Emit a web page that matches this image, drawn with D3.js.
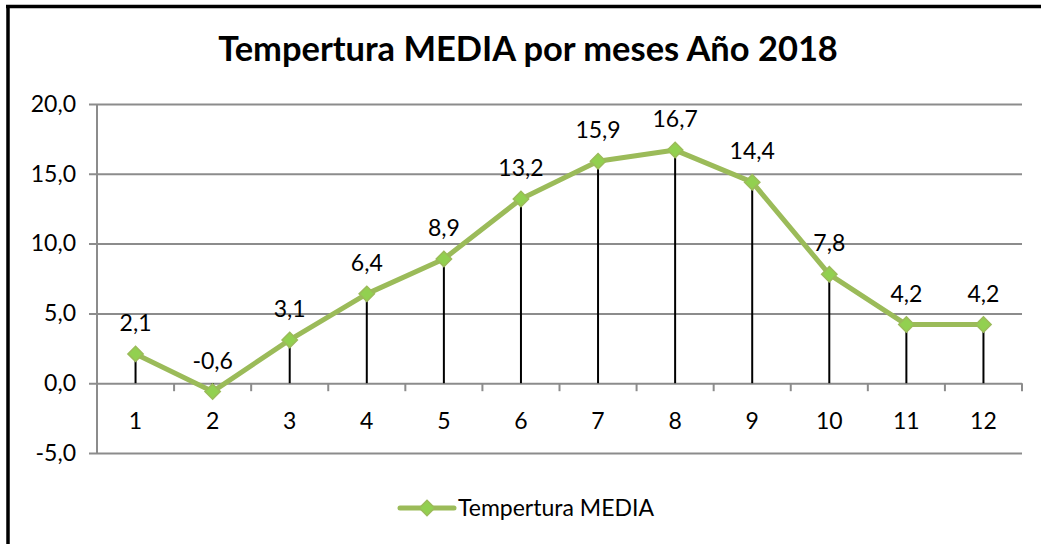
<!DOCTYPE html>
<html>
<head>
<meta charset="utf-8">
<script src="https://cdn.jsdelivr.net/npm/d3@7"></script>
<style>
  body { margin: 0; background: #fff; }
  svg { display: block; font-family: Lato, "Open Sans", sans-serif; }
</style>
</head>
<body>
<svg class="chart" width="1041" height="544"></svg>
<script>
const months = ['1', '2', '3', '4', '5', '6', '7', '8', '9', '10', '11', '12'];
const tempMedia = [2.1, -0.6, 3.1, 6.4, 8.9, 13.2, 15.9, 16.7, 14.4, 7.8, 4.2, 4.2];
const yTicks = [-5, 0, 5, 10, 15, 20];
const titleText = 'Tempertura MEDIA por meses Año 2018';
const seriesName = 'Tempertura MEDIA';

const chart = d3.select('.chart');
const width = +chart.attr('width');
const height = +chart.attr('height');

const margin = { top: 104, right: 19, bottom: 91, left: 97 };
const innerWidth = width - margin.left - margin.right;
const innerHeight = height - margin.top - margin.bottom;

const lineColor = '#9bbb59';
const markerFill = '#92d050';
const gridColor = '#8c8c8c';
const fmt = v => d3.format('.1f')(v).replace('.', ',').replace('\u2212', '-');

// outer frame: only top and left edges show in the picture
chart.append('line')
    .attr('x1', 6).attr('x2', width).attr('y1', 6.5).attr('y2', 6.5)
    .attr('stroke', '#000').attr('stroke-width', 3.5);
chart.append('line')
    .attr('x1', 8).attr('x2', 8).attr('y1', 5).attr('y2', height)
    .attr('stroke', '#000').attr('stroke-width', 3.5);

const title = chart.append('text')
    .attr('x', 528).attr('y', 61)
    .attr('text-anchor', 'middle')
    .attr('font-weight', 'bold')
    .attr('font-size', 32)
    .attr('fill', '#000')
    .text(titleText);
const tw = title.node().getComputedTextLength();
title.attr('font-size', 32 * 620 / tw);

const xScale = d3.scaleBand()
    .domain(months)
    .range([0, innerWidth]);

const yScale = d3.scaleLinear()
    .domain([-5, 20])
    .range([innerHeight, 0]);

const g = chart.append('g')
    .attr('transform', `translate(${margin.left},${margin.top})`);

// gridlines + y ticks
g.append('g')
    .call(d3.axisLeft(yScale).tickValues(yTicks).tickSize(-innerWidth).tickPadding(21).tickFormat(fmt))
    .call(ax => {
        ax.select('.domain').remove();
        ax.selectAll('.tick line').attr('stroke', gridColor).attr('stroke-width', 2).attr('x1', -8);
        ax.selectAll('.tick text').attr('font-size', 23).attr('fill', '#000')
            .attr('font-family', 'Lato, sans-serif');
    });

// vertical axis line
g.append('line')
    .attr('x1', 0).attr('x2', 0)
    .attr('y1', 0).attr('y2', innerHeight)
    .attr('stroke', gridColor).attr('stroke-width', 2);

// category axis at zero
const xAxisG = g.append('g')
    .attr('transform', `translate(0,${yScale(0)})`);
xAxisG.append('g')
    .selectAll('line').data(d3.range(months.length + 1))
    .enter().append('line')
    .attr('x1', i => i * xScale.step()).attr('x2', i => i * xScale.step())
    .attr('y1', 0).attr('y2', 8)
    .attr('stroke', gridColor).attr('stroke-width', 2);
xAxisG.selectAll('text.cat').data(months)
    .enter().append('text')
    .attr('class', 'cat')
    .attr('x', d => xScale(d) + xScale.bandwidth() / 2)
    .attr('y', 46)
    .attr('text-anchor', 'middle')
    .attr('font-size', 23)
    .attr('fill', '#000')
    .text(d => d);

const cx = (d, i) => xScale(months[i]) + xScale.bandwidth() / 2;

// drop lines
g.selectAll('line.drop').data(tempMedia)
    .enter().append('line')
    .attr('class', 'drop')
    .attr('x1', cx).attr('x2', cx)
    .attr('y1', d => yScale(d)).attr('y2', yScale(0))
    .attr('stroke', '#000').attr('stroke-width', 2);

// series line
const line = d3.line()
    .x(cx)
    .y(d => yScale(d));
g.append('path')
    .datum(tempMedia)
    .attr('d', line)
    .attr('fill', 'none')
    .attr('stroke', lineColor)
    .attr('stroke-width', 5)
    .attr('stroke-linejoin', 'round');

const diamond = d3.symbol().type(d3.symbolDiamond2).size(150);
g.selectAll('path.marker').data(tempMedia)
    .enter().append('path')
    .attr('class', 'marker')
    .attr('d', diamond)
    .attr('transform', (d, i) => `translate(${cx(d, i)},${yScale(d)})`)
    .attr('fill', markerFill)
    .attr('stroke', lineColor)
    .attr('stroke-width', 1.5);

// data labels
g.selectAll('text.lbl').data(tempMedia)
    .enter().append('text')
    .attr('class', 'lbl')
    .attr('x', cx)
    .attr('y', d => yScale(d) - 23)
    .attr('text-anchor', 'middle')
    .attr('font-size', 23)
    .attr('fill', '#000')
    .text(fmt);

// legend
const lg = chart.append('g').attr('transform', 'translate(400,508)');
lg.append('line')
    .attr('x1', 0).attr('x2', 54)
    .attr('stroke', lineColor).attr('stroke-width', 5).attr('stroke-linecap', 'round');
lg.append('path')
    .attr('d', diamond)
    .attr('transform', 'translate(27,0)')
    .attr('fill', markerFill).attr('stroke', lineColor).attr('stroke-width', 1.5);
lg.append('text')
    .attr('x', 58).attr('y', 8)
    .attr('font-size', 23)
    .attr('fill', '#000')
    .text(seriesName);
</script>
</body>
</html>
